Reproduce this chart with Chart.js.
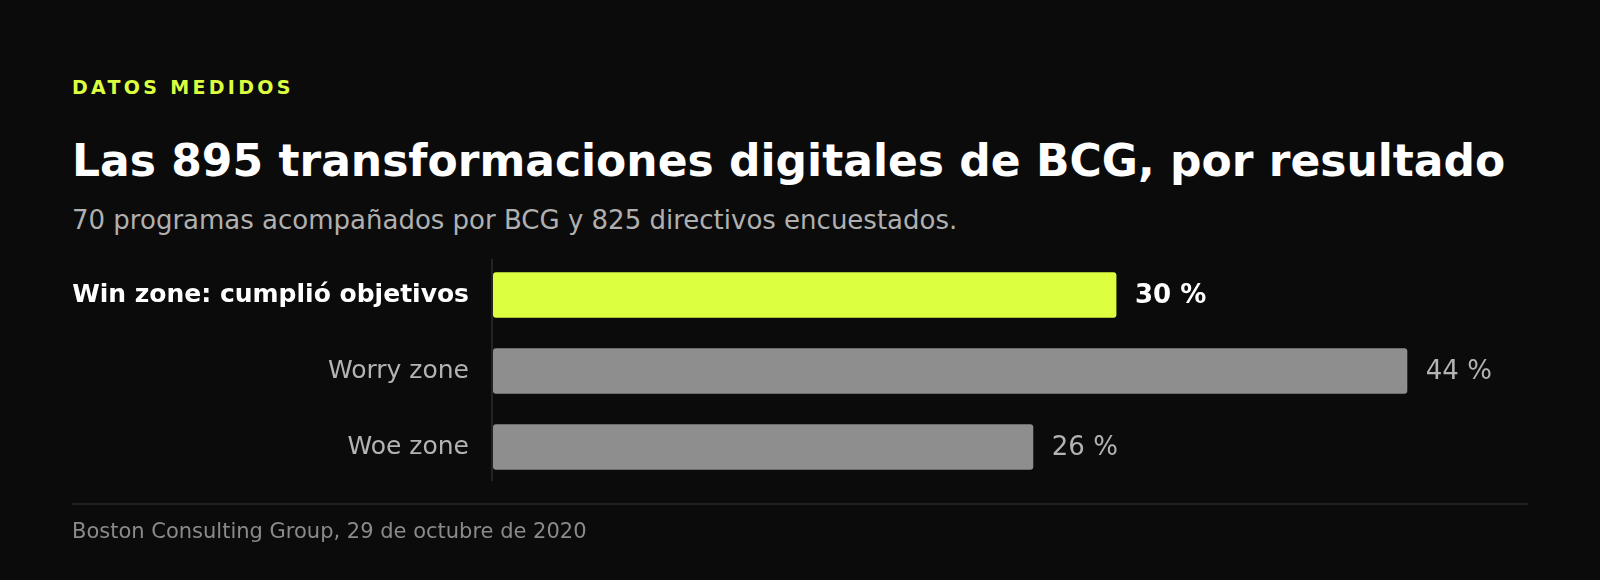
<!DOCTYPE html>
<html lang="es">
<head>
<meta charset="utf-8">
<title>Las 895 transformaciones digitales de BCG, por resultado</title>
<script src="https://cdn.jsdelivr.net/npm/chart.js@4.4.1/dist/chart.umd.min.js"></script>
<style>
    html, body {
        margin: 0;
        padding: 0;
        background: #0b0b0b;
        font-family: "DejaVu Sans", sans-serif;
    }
    #pagina {
        position: relative;
        width: 1600px;
        height: 580px;
        overflow: hidden;
        background: #0b0b0b;
    }
    .txt {
        position: absolute;
        left: 72px;
        margin: 0;
        line-height: 1;
        white-space: nowrap;
    }
    #etiqueta {
        top: 78px;
        font-size: 19px;
        font-weight: bold;
        letter-spacing: 3.3px;
        color: #dcff40;
    }
    #titulo {
        top: 139px;
        font-size: 44px;
        font-weight: bold;
        color: #ffffff;
    }
    #subtitulo {
        top: 207px;
        font-size: 26px;
        color: #b0b0b0;
    }
    #linea {
        position: absolute;
        left: 72px;
        top: 503px;
        width: 1456px;
        height: 2px;
        background: #202020;
    }
    #fuente {
        top: 521px;
        font-size: 21px;
        color: #8a8a8a;
    }
    #grafiek {
        position: absolute;
        left: 0;
        top: 0;
        width: 1600px;
        height: 580px;
    }
</style>
</head>
<body>
<div id="pagina">
    <div class="txt" id="etiqueta">DATOS MEDIDOS</div>
    <h1 class="txt" id="titulo">Las 895 transformaciones digitales de BCG, por resultado</h1>
    <div class="txt" id="subtitulo">70 programas acompañados por BCG y 825 directivos encuestados.</div>
    <div id="grafiek"><canvas id="canvas"></canvas></div>
    <div id="linea"></div>
    <div class="txt" id="fuente">Boston Consulting Group, 29 de octubre de 2020</div>
</div>

<script>
// ===============================
// Datos
// ===============================
const categorias = ["Win zone: cumplió objetivos", "Worry zone", "Woe zone"];
const porcentajes = [30, 44, 26];
const ejeMax = 50;
const destacado = 0; // índice de la barra resaltada

// ===============================
// Colores
// ===============================
const LIMA = "#dcff40";
const GRIS_BARRA = "#8e8e8e";
const GRIS_TEXTO = "#b3b3b3";

Chart.defaults.font.family = "'DejaVu Sans', sans-serif";

// ===============================
// Plugin: línea del eje (algo más corta que el área)
// ===============================
const lineaEje = {
    id: "lineaEje",
    beforeDatasetsDraw(chart) {
        const { ctx, chartArea } = chart;
        const x = chart.scales.x.getPixelForValue(0) - 1;
        ctx.save();
        ctx.strokeStyle = "#2c2c2c";
        ctx.lineWidth = 1.5;
        ctx.beginPath();
        ctx.moveTo(x, chartArea.top + 2);
        ctx.lineTo(x, chartArea.bottom - 4);
        ctx.stroke();
        ctx.restore();
    }
};

// ===============================
// Plugin: etiquetas de valor al final de cada barra
// ===============================
const etiquetasValor = {
    id: "etiquetasValor",
    afterDatasetsDraw(chart) {
        const ctx = chart.ctx;
        const meta = chart.getDatasetMeta(0);
        ctx.save();
        ctx.textBaseline = "middle";
        ctx.textAlign = "left";
        meta.data.forEach((bar, i) => {
            const esDestacado = i === destacado;
            ctx.font = (esDestacado ? "bold " : "") + "26px 'DejaVu Sans', sans-serif";
            ctx.fillStyle = esDestacado ? "#ffffff" : GRIS_TEXTO;
            ctx.fillText(porcentajes[i] + " %", bar.x + 18.5, bar.y + 1);
        });
        ctx.restore();
    }
};

// ===============================
// Grafiek
// ===============================
const config = {
    type: "bar",
    data: {
        labels: categorias,
        datasets: [{
            data: porcentajes,
            backgroundColor: ctx => ctx.dataIndex === destacado ? LIMA : GRIS_BARRA,
            borderRadius: 3,
            borderSkipped: false,
            categoryPercentage: 1,
            barPercentage: 0.6
        }]
    },
    options: {
        indexAxis: "y",
        responsive: true,
        maintainAspectRatio: false,
        animation: false,
        layout: {
            padding: { left: 72, right: 68, top: 257, bottom: 95 }
        },
        plugins: {
            legend: { display: false },
            title: { display: false },
            tooltip: { enabled: false }
        },
        scales: {
            x: {
                display: false,
                min: 0,
                max: ejeMax
            },
            y: {
                afterFit: scale => { scale.width = 421; },
                grid: { display: false, drawTicks: false },
                border: { display: false },
                ticks: {
                    padding: 24,
                    color: ctx => ctx.index === destacado ? "#ffffff" : GRIS_TEXTO,
                    font: ctx => ({
                        size: 25,
                        weight: ctx.index === destacado ? "bold" : "normal"
                    })
                }
            }
        }
    },
    plugins: [lineaEje, etiquetasValor]
};

new Chart(document.getElementById("canvas").getContext("2d"), config);
</script>
</body>
</html>
